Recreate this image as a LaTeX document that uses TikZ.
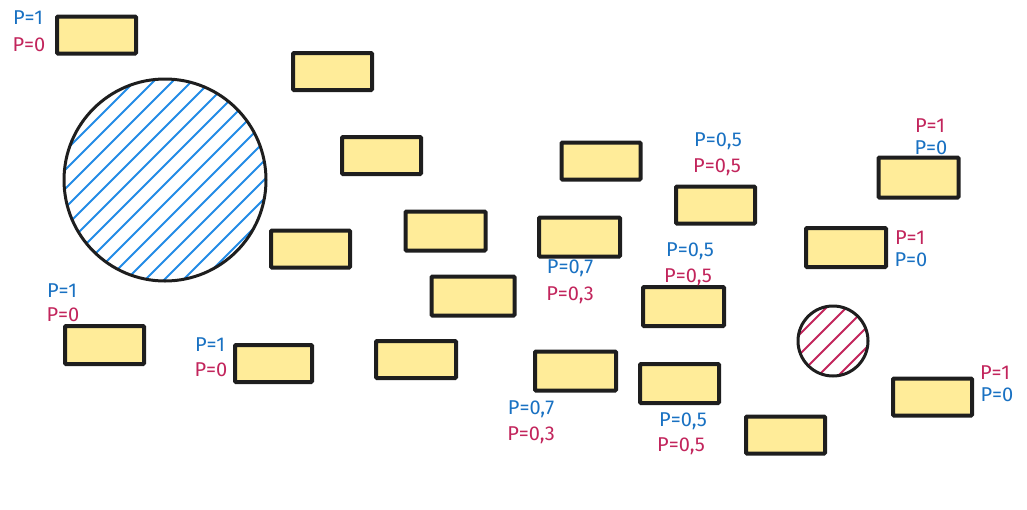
\documentclass[tikz,border=0pt]{standalone}
\usepackage{fontspec}
\setmainfont{Fira Sans}
\definecolor{pblue}{HTML}{1971C2}
\definecolor{pred}{HTML}{C2255C}
\definecolor{hblue}{HTML}{228BE6}
\definecolor{byellow}{HTML}{FFEC99}
\definecolor{ink}{HTML}{1E1E1E}
\begin{document}
\begin{tikzpicture}[x=1pt,y=-1pt,
  box/.style={draw=ink, fill=byellow, line width=4pt, rounded corners=1pt,
    minimum width=79pt, minimum height=37pt, inner sep=0pt},
  ring/.style={draw=ink, line width=3pt, circle, inner sep=0pt},
  lb/.style={text=pblue, font=\fontsize{20}{23}\selectfont, inner sep=0pt},
  lr/.style={text=pred, font=\fontsize{20}{23}\selectfont, inner sep=0pt},
  hb/.style={draw=hblue, line width=1.8pt},
  hr/.style={draw=pred, line width=1.8pt}]
\useasboundingbox (0,0) rectangle (1027,509);
% big hatched circle
\begin{scope}
  \clip (165,180) circle (100);
  \foreach \d in {-300,-281,...,300}
    \draw[hb] (165+\d-150,180+150) -- (165+\d+150,180-150);
\end{scope}
\node[ring, minimum size=202pt] (c1) at (165,180) {};
% small hatched circle
\begin{scope}
  \clip (833,341) circle (34);
  \foreach \d in {-100,-80,...,100}
    \draw[hr] (833+\d-50,341+50) -- (833+\d+50,341-50);
\end{scope}
\node[ring, minimum size=70pt] (c2) at (833,341) {};
% boxes
\node[box] (b1) at (96.5,35) {};
\node[box] (b2) at (332.5,71.5) {};
\node[box] (b3) at (381.5,155.5) {};
\node[box] (b4) at (310.5,249) {};
\node[box, minimum width=80pt, minimum height=39pt] (b5) at (445.5,231) {};
\node[box, minimum width=83pt, minimum height=39pt] (b6) at (473,296) {};
\node[box, minimum width=80pt] (b7) at (416,359.5) {};
\node[box, minimum width=77pt] (b8) at (273.5,363.5) {};
\node[box, minimum height=38pt] (b9) at (104.5,345) {};
\node[box] (b10) at (601,161) {};
\node[box, minimum width=81pt, minimum height=39pt] (b11) at (579.5,237) {};
\node[box] (b12) at (715.5,205) {};
\node[box, minimum width=81pt, minimum height=39pt] (b13) at (683.5,306.5) {};
\node[box, minimum width=81pt, minimum height=39pt] (b14) at (575.5,371) {};
\node[box, minimum height=39pt] (b15) at (679.5,383.5) {};
\node[box] (b16) at (785.5,435) {};
\node[box, minimum width=80pt, minimum height=39pt] (b17) at (846,247.5) {};
\node[box, minimum width=80pt, minimum height=40pt] (b18) at (918.5,177.5) {};
\node[box] (b19) at (932.5,397) {};
% labels
\node[lb] (l1a) at (28,18) {P=1};
\node[lr] (l1b) at (29,45) {P=0};
\node[lb] (l2a) at (62,291) {P=1};
\node[lr] (l2b) at (63,315) {P=0};
\node[lb] (l3a) at (210,345) {P=1};
\node[lr] (l3b) at (211,370) {P=0};
\node[lb] (l4a) at (718,141) {P=0,5};
\node[lr] (l4b) at (717,167) {P=0,5};
\node[lr] (l5a) at (930,126) {P=1};
\node[lb] (l5b) at (931,148) {P=0};
\node[lb] (l6a) at (570,268) {P=0,7};
\node[lr] (l6b) at (570,295) {P=0,3};
\node[lb] (l7a) at (690,251) {P=0,5};
\node[lr] (l7b) at (688,277) {P=0,5};
\node[lr] (l8a) at (910,238) {P=1};
\node[lb] (l8b) at (911,260) {P=0};
\node[lb] (l9a) at (531,409) {P=0,7};
\node[lr] (l9b) at (531,435) {P=0,3};
\node[lb] (l10a) at (683,421) {P=0,5};
\node[lr] (l10b) at (681,446) {P=0,5};
\node[lr] (l11a) at (995,373) {P=1};
\node[lb] (l11b) at (997,395) {P=0};
\end{tikzpicture}
\end{document}
